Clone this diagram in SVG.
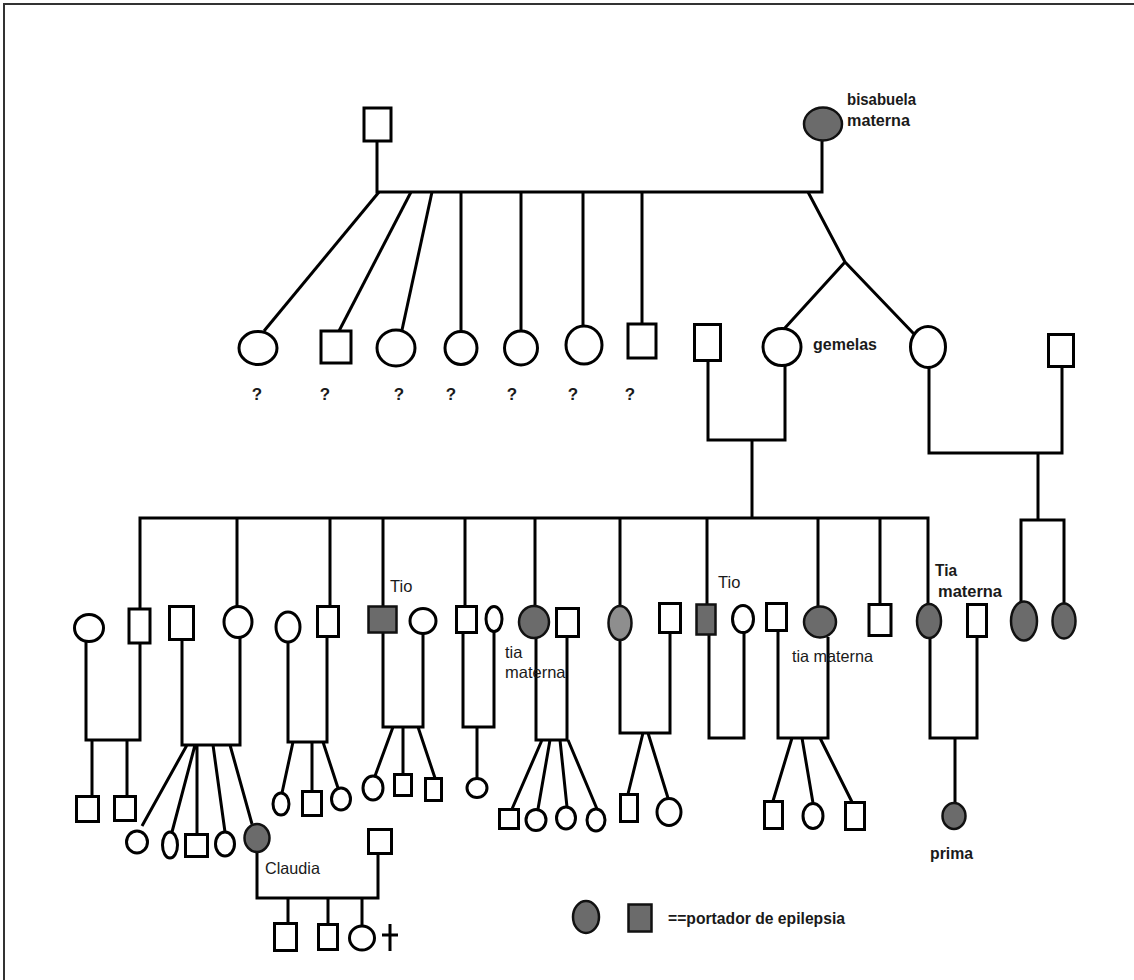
<svg xmlns="http://www.w3.org/2000/svg" width="1134" height="980" viewBox="0 0 1134 980">
<style>
.l{fill:none;stroke:#000;stroke-width:3}
.n{fill:#fff;stroke:#000;stroke-width:3}
.a{fill:#6b6b6b;stroke:#111;stroke-width:2.5}
.s{fill:#8e8e8e;stroke:#111;stroke-width:2.5}
.tb{font-family:"Liberation Sans",Arial,sans-serif;font-weight:bold;font-size:17px;fill:#1a1a1a}
.tr{font-family:"Liberation Sans",Arial,sans-serif;font-size:16.5px;fill:#1a1a1a}
</style>
<rect width="1134" height="980" fill="#fff"/>
<path d="M4,980 V4 H1134" fill="none" stroke="#333" stroke-width="2"/>
<g id="connectors" class="l">
<path d="M377,141 V192 H822 V141"/>
<path d="M379,192 L264,331"/>
<path d="M411,192 L339,331"/>
<path d="M432,192 L402,330"/>
<path d="M461,192 V331"/>
<path d="M521,192 V331"/>
<path d="M583,192 V326"/>
<path d="M642,192 V324"/>
<path d="M808,192 L845,262 L784,329 M845,262 L914,334"/>
<path d="M708,361 V440 H785 V365"/>
<path d="M752,440 V518"/>
<path d="M140,609 V518 H928 V604"/>
<path d="M237,518 V606 M330,518 V606 M383,518 V606 M465,518 V606 M535,518 V606 M620,518 V606 M707,518 V604 M818,518 V606 M880,518 V604"/>
<path d="M929,368 V453 H1062 V366"/>
<path d="M1038,453 V520"/>
<path d="M1021,602 V520 H1064 V603"/>
<path d="M86,641 V740 H140 V643 M92,740 V796 M127,740 V796"/>
<path d="M182,639 V745 H240 V637 M187,745 L142,826 M195,745 L172,832 M197,745 V834 M213,745 L225,832 M230,745 L252,824"/>
<path d="M288,642 V742 H327 V636 M293,742 L282,793 M312,742 V791 M323,742 L338,788"/>
<path d="M383,632 V727 H423 V633 M393,727 L375,776 M403,727 V774 M418,727 L435,778"/>
<path d="M463,632 V727 H494 V631 M477,727 V778"/>
<path d="M536,638 V740 H567 V636 M542,740 L512,809 M550,740 L538,809 M560,740 L567,807 M568,740 L597,809"/>
<path d="M620,640 V733 H670 V632 M643,733 L628,794 M648,733 L668,798"/>
<path d="M709,634 V738 H744 V632"/>
<path d="M778,630 V738 H828 V637 M792,738 L773,801 M802,738 L813,803 M820,738 L852,802"/>
<path d="M930,638 V738 H977 V636 M955,738 V803"/>
<path d="M257,852 V898 H378 V853 M288,898 V923 M328,898 V924 M362,898 V926"/>
</g>
<g id="ggf"><rect class="n" x="364" y="108" width="27" height="33"/></g>
<g id="bisabuela"><ellipse class="a" cx="823" cy="124" rx="19" ry="16.5"/><text class="tb" x="847" y="105" textLength="69" lengthAdjust="spacingAndGlyphs">bisabuela</text><text class="tb" x="847" y="126" textLength="63" lengthAdjust="spacingAndGlyphs">materna</text></g>
<g id="g2c1"><ellipse class="n" cx="258" cy="348" rx="19" ry="16.5"/><text class="tb" x="257" y="400" text-anchor="middle">?</text></g>
<g id="g2c2"><rect class="n" x="321" y="331" width="30" height="32"/><text class="tb" x="325" y="400" text-anchor="middle">?</text></g>
<g id="g2c3"><ellipse class="n" cx="396" cy="348" rx="19" ry="18"/><text class="tb" x="399" y="400" text-anchor="middle">?</text></g>
<g id="g2c4"><ellipse class="n" cx="461" cy="348" rx="16" ry="16.5"/><text class="tb" x="451" y="400" text-anchor="middle">?</text></g>
<g id="g2c5"><ellipse class="n" cx="521" cy="348" rx="16.5" ry="17"/><text class="tb" x="512" y="400" text-anchor="middle">?</text></g>
<g id="g2c6"><ellipse class="n" cx="584" cy="345" rx="18" ry="19"/><text class="tb" x="573" y="400" text-anchor="middle">?</text></g>
<g id="g2c7"><rect class="n" x="628" y="324" width="28" height="34"/><text class="tb" x="630" y="400" text-anchor="middle">?</text></g>
<g id="grandfather"><rect class="n" x="694.5" y="324.5" width="26" height="36"/></g>
<g id="twin1"><ellipse class="n" cx="782" cy="347" rx="19" ry="18.5"/><text class="tb" x="813" y="350" textLength="64" lengthAdjust="spacingAndGlyphs">gemelas</text></g>
<g id="twin2"><ellipse class="n" cx="928" cy="347" rx="17.5" ry="20.5"/></g>
<g id="twin2husband"><rect class="n" x="1048.5" y="334.5" width="25" height="32"/></g>
<g id="fa"><ellipse class="n" cx="89" cy="628" rx="14.5" ry="13.5"/><rect class="n" x="129" y="609" width="21" height="34"/></g>
<g id="fb"><rect class="n" x="169.5" y="606.5" width="24" height="33"/><ellipse class="n" cx="238" cy="622" rx="14" ry="15.5"/></g>
<g id="fc"><ellipse class="n" cx="288" cy="627" rx="12" ry="15"/><rect class="n" x="317.5" y="606.5" width="21" height="30"/></g>
<g id="fd"><rect class="a" x="368.5" y="606.5" width="28" height="26"/><text class="tr" x="390" y="592">Tio</text><ellipse class="n" cx="423" cy="621" rx="13" ry="12.5"/></g>
<g id="fe"><rect class="n" x="456.5" y="606.5" width="20" height="26"/><ellipse class="n" cx="494" cy="619" rx="8" ry="12.5"/></g>
<g id="ff"><ellipse class="a" cx="534" cy="622" rx="15" ry="16"/><text class="tr" x="505" y="658">tia</text><text class="tr" x="505" y="678">materna</text><rect class="n" x="556.5" y="608.5" width="22" height="28"/></g>
<g id="fg"><ellipse class="s" cx="620" cy="623" rx="11.5" ry="17"/><rect class="n" x="659.5" y="603.5" width="21" height="29"/></g>
<g id="fh"><rect class="a" x="696.5" y="604.5" width="19" height="30"/><text class="tr" x="718" y="588">Tio</text><ellipse class="n" cx="743" cy="619" rx="10.5" ry="13.5"/></g>
<g id="fi"><rect class="n" x="766.5" y="603.5" width="20" height="27"/><ellipse class="a" cx="820" cy="622" rx="16" ry="15.5"/><text class="tr" x="792" y="662" textLength="81" lengthAdjust="spacingAndGlyphs">tia materna</text></g>
<g id="fj"><rect class="n" x="869" y="604.5" width="22" height="31"/></g>
<g id="fk"><ellipse class="a" cx="929" cy="621" rx="12" ry="17"/><text class="tb" x="935" y="576" textLength="22" lengthAdjust="spacingAndGlyphs">Tia</text><text class="tb" x="938" y="597" textLength="64" lengthAdjust="spacingAndGlyphs">materna</text><rect class="n" x="967.5" y="604.5" width="19" height="32"/></g>
<g id="twinchild1"><ellipse class="a" cx="1024" cy="621" rx="13" ry="19.5"/></g>
<g id="twinchild2"><ellipse class="a" cx="1064" cy="621" rx="11.5" ry="17.5"/></g>
<g id="a1"><rect class="n" x="76.5" y="796.5" width="22" height="25"/></g>
<g id="a2"><rect class="n" x="114.5" y="796.5" width="21" height="24"/></g>
<g id="b1"><ellipse class="n" cx="137" cy="842" rx="10.5" ry="11"/></g>
<g id="b2"><ellipse class="n" cx="170" cy="845" rx="7.5" ry="13"/></g>
<g id="b3"><rect class="n" x="185.5" y="834.5" width="22" height="22"/></g>
<g id="b4"><ellipse class="n" cx="225" cy="844" rx="9.5" ry="12"/></g>
<g id="claudia"><ellipse class="a" cx="257" cy="838" rx="12.5" ry="14"/><text class="tr" x="265" y="874" textLength="55" lengthAdjust="spacingAndGlyphs">Claudia</text></g>
<g id="claudiahusband"><rect class="n" x="368.5" y="829.5" width="23" height="24"/></g>
<g id="ck1"><rect class="n" x="274.5" y="923.5" width="22" height="27"/></g>
<g id="ck2"><rect class="n" x="318.5" y="924.5" width="19" height="25"/></g>
<g id="ck3"><ellipse class="n" cx="362" cy="938" rx="12.5" ry="12"/><path d="M390,924 V951 M382,935 H398" fill="none" stroke="#000" stroke-width="3"/></g>
<g id="c1"><ellipse class="n" cx="281" cy="804" rx="8" ry="11"/></g>
<g id="c2"><rect class="n" x="302.5" y="791.5" width="19" height="24"/></g>
<g id="c3"><ellipse class="n" cx="341" cy="799" rx="9.5" ry="11"/></g>
<g id="d1"><ellipse class="n" cx="373" cy="788" rx="10" ry="12"/></g>
<g id="d2"><rect class="n" x="394.5" y="774.5" width="17" height="21"/></g>
<g id="d3"><rect class="n" x="425.5" y="778.5" width="16" height="22"/></g>
<g id="e1"><ellipse class="n" cx="477" cy="788" rx="10" ry="9.5"/></g>
<g id="f1"><rect class="n" x="499.5" y="809.5" width="19" height="19"/></g>
<g id="f2"><ellipse class="n" cx="536" cy="820" rx="10" ry="10.5"/></g>
<g id="f3"><ellipse class="n" cx="566" cy="818" rx="9.5" ry="11"/></g>
<g id="f4"><ellipse class="n" cx="596" cy="820" rx="9" ry="11"/></g>
<g id="g1"><rect class="n" x="620.5" y="794.5" width="17" height="27"/></g>
<g id="g2"><ellipse class="n" cx="669" cy="812" rx="12" ry="13.5"/></g>
<g id="i1"><rect class="n" x="764.5" y="801.5" width="18" height="27"/></g>
<g id="i2"><ellipse class="n" cx="813" cy="816" rx="10" ry="12.5"/></g>
<g id="i3"><rect class="n" x="845.5" y="802.5" width="19" height="27"/></g>
<g id="prima"><ellipse class="a" cx="954" cy="816" rx="11.5" ry="13"/><text class="tb" x="930" y="859" textLength="43" lengthAdjust="spacingAndGlyphs">prima</text></g>
<g id="legend"><ellipse class="a" cx="586" cy="917" rx="13" ry="16"/><rect class="a" x="628.5" y="904.5" width="23" height="27"/><text class="tb" x="668" y="924" textLength="177" lengthAdjust="spacingAndGlyphs">==portador de epilepsia</text></g>
</svg>
